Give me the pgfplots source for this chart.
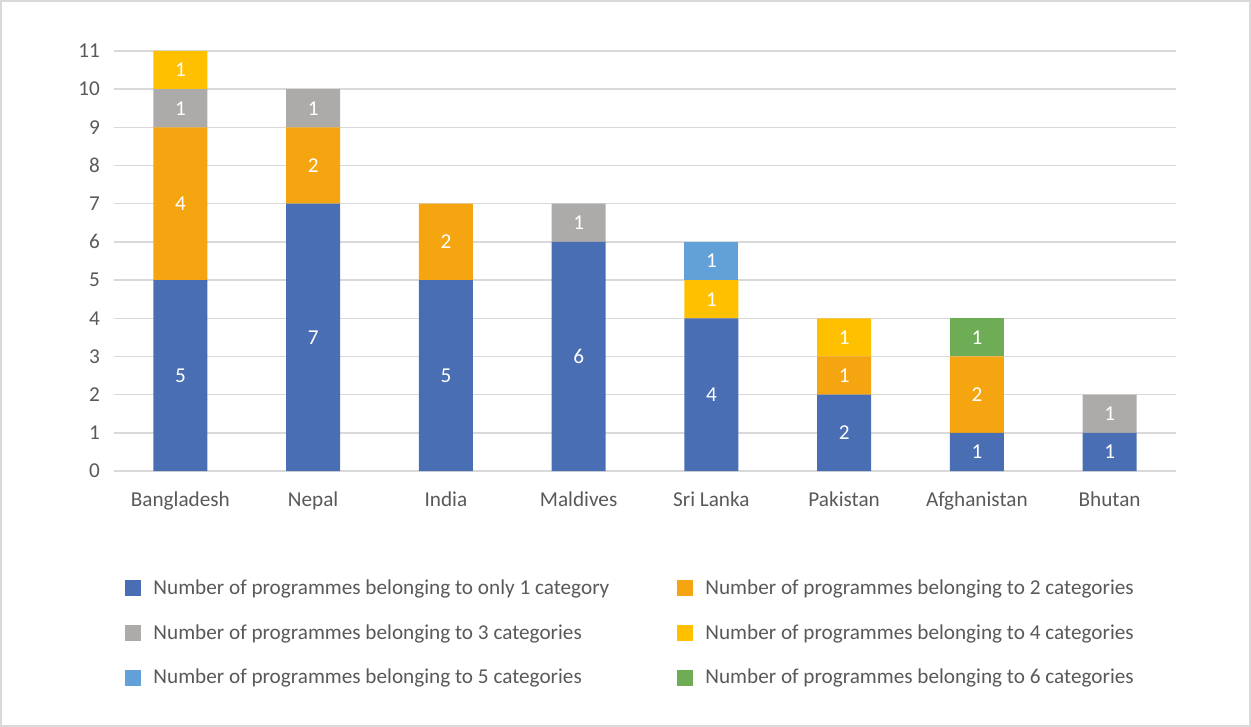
\documentclass[border=0pt]{standalone}
\usepackage{pgfplots}
\pgfplotsset{compat=1.18}
\usepackage{pgfplotstable}
\usepackage{fontspec}
\setmainfont{Carlito}
\definecolor{c1}{HTML}{4A6EB4}
\definecolor{c2}{HTML}{F5A50F}
\definecolor{c3}{HTML}{ADAAAA}
\definecolor{c4}{HTML}{FFC000}
\definecolor{c5}{HTML}{62A0D8}
\definecolor{c6}{HTML}{6EAD55}
\definecolor{txt}{HTML}{595959}
\definecolor{gridc}{HTML}{D9D9D9}

\pgfplotstableread{
x a b c d e f
0 5 4 1 1 0 0
1 7 2 1 0 0 0
2 5 2 0 0 0 0
3 6 0 1 0 0 0
4 4 0 0 1 1 0
5 2 1 0 1 0 0
6 1 2 0 0 0 1
7 1 0 1 0 0 0
}\datatable

\begin{document}
\begin{tikzpicture}
\begin{axis}[
  at={(0,0)}, anchor=south west,
  ybar stacked, bar width=27pt,
  width=531pt, height=210pt, scale only axis,
  xmin=-0.5, xmax=7.5, ymin=0, ymax=11,
  enlargelimits=false,
  xtick={0,...,7},
  xticklabels={Bangladesh,Nepal,India,Maldives,Sri Lanka,Pakistan,Afghanistan,Bhutan},
  ytick={0,...,11},
  ymajorgrids, grid style={gridc, line width=0.75pt},
  axis line style={draw=none},
  major tick length=0pt,
  tick label style={font=\fontsize{10.6}{12}\selectfont, text=txt},
  xticklabel style={yshift=-7pt},
  yticklabel style={xshift=-3.5pt},
  /pgf/number format/assume math mode=true,
  disabledatascaling,
  point meta=explicit,
  nodes near coords={\pgfmathfloatifflags{\pgfplotspointmeta}{0}{}{\pgfmathprintnumber{\pgfplotspointmeta}}},
  every node near coord/.append style={anchor=center, text=white, font=\fontsize{10.6}{12}\selectfont},
  legend columns=2,
  legend cell align=left,
  legend image code/.code={\fill[#1] (0pt,-4pt) rectangle (8pt,4pt);},
  legend style={at={(axis description cs:0.0104,-0.248)}, anchor=north west, draw=none, inner sep=0pt,
    font=\fontsize{10.6}{12}\selectfont, text=txt, row sep=9.5pt,
    /tikz/every odd column/.append style={column sep=4pt},
    /tikz/every even column/.append style={column sep=32pt}},
]
\addplot[fill=c1, draw=none] table[x=x, y=a, meta=a] {\datatable};
\addlegendentry{Number of programmes belonging to only 1 category}
\addplot[fill=c2, draw=none] table[x=x, y=b, meta=b] {\datatable};
\addlegendentry{Number of programmes belonging to 2 categories}
\addplot[fill=c3, draw=none] table[x=x, y=c, meta=c] {\datatable};
\addlegendentry{Number of programmes belonging to 3 categories}
\addplot[fill=c4, draw=none] table[x=x, y=d, meta=d] {\datatable};
\addlegendentry{Number of programmes belonging to 4 categories}
\addplot[fill=c5, draw=none] table[x=x, y=e, meta=e] {\datatable};
\addlegendentry{Number of programmes belonging to 5 categories}
\addplot[fill=c6, draw=none] table[x=x, y=f, meta=f] {\datatable};
\addlegendentry{Number of programmes belonging to 6 categories}
\end{axis}
\draw[gridc, line width=1pt] (-56.5pt,-127.5pt) rectangle (568pt,235pt);
\end{tikzpicture}
\end{document}
